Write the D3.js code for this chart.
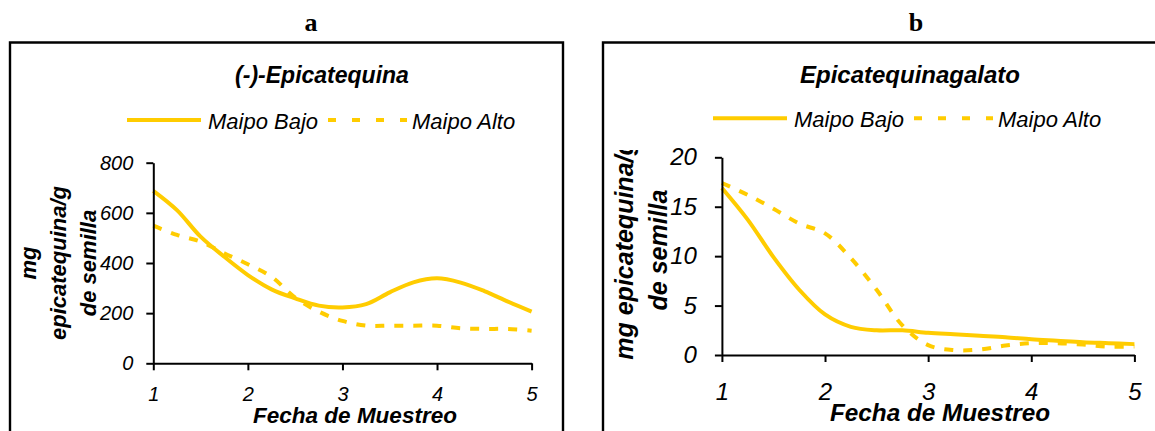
<!DOCTYPE html>
<html>
<head>
<meta charset="utf-8">
<script src="https://cdn.jsdelivr.net/npm/d3@7"></script>
<style>
  body { margin: 0; background: #fff; }
  svg { display: block; }
  .tick text { font-family: "Liberation Sans", Arial, sans-serif; font-style: italic; fill: #000; }
</style>
</head>
<body>
<div id="chart"></div>
<script>
// Sampling dates (quarter steps of the smoothed Excel series)
const fechas = [1, 1.25, 1.5, 1.75, 2, 2.25, 2.5, 2.75, 3, 3.25, 3.5, 3.75, 4, 4.25, 4.5, 4.75, 5];
const xTicks = [1, 2, 3, 4, 5];

// (-)-Epicatequina, mg/g de semilla
const epiBajo = [688, 611, 505, 425, 352, 295, 259, 230, 223, 236, 283, 323, 339, 322, 288, 246, 206];
const epiAlto = [549, 512, 485, 439, 395, 345, 262, 206, 169, 150, 150, 150, 150, 140, 137, 137, 130];
const epiTicks = [0, 200, 400, 600, 800];

// Epicatequinagalato, mg/g de semilla
const galBajo = [16.9, 13.7, 9.9, 6.6, 4.1, 2.85, 2.5, 2.5, 2.25, 2.1, 1.95, 1.8, 1.6, 1.45, 1.3, 1.2, 1.1];
const galAlto = [17.4, 16.2, 14.8, 13.3, 12.3, 9.8, 6.6, 3.0, 1.0, 0.5, 0.55, 0.95, 1.2, 1.2, 1.05, 0.85, 0.85];
const galTicks = [0, 5, 10, 15, 20];

const seriesNames = ["Maipo Bajo", "Maipo Alto"];

const gold = "#FFCC00";
const sans = '"Liberation Sans", Arial, sans-serif';

const svg = d3.select("#chart").append("svg")
    .attr("width", 1155)
    .attr("height", 431);

// Panel a
drawPanel({
    letter: "a", letterX: 311, boxX0: 10, boxX1: 563,
    title: "(-)-Epicatequina", titleX: 322, titleSize: 23,
    legendX: 127, legendY: 120,
    x0: 153.3, x1: 531.6, yTop: 162.7, yBottom: 363.3,
    yMax: 800, yTicks: epiTicks, bajo: epiBajo, alto: epiAlto,
    tickSize: 20, yPad: 13, xPad: 17,
    yTitle: ["mg", "epicatequina/g", "de semilla"], yTitleX: [36, 66, 96], yTitleY: 263, yTitleSize: 22,
    xTitleX: 355, xTitleY: 423, xTitleSize: 22.5
});

// Panel b
drawPanel({
    letter: "b", letterX: 916, boxX0: 603, boxX1: 1162,
    title: "Epicatequinagalato", titleX: 910, titleSize: 24,
    legendX: 713, legendY: 118.3,
    x0: 721.9, x1: 1134.4, yTop: 157.3, yBottom: 355,
    yMax: 20, yTicks: galTicks, bajo: galBajo, alto: galAlto,
    tickSize: 24, yPad: 18, xPad: 21,
    yTitle: ["mg epicatequina/g", "de semilla"], yTitleX: [633, 667], yTitleY: 250, yTitleSize: 25,
    yTitleClip: 150,
    xTitleX: 940, xTitleY: 421, xTitleSize: 24.3
});

function drawPanel(p) {
    const g = svg.append("g");

    // Panel letter
    g.append("text")
        .attr("x", p.letterX)
        .attr("y", 30.7)
        .attr("text-anchor", "middle")
        .style("font-family", '"Liberation Serif", "Times New Roman", serif')
        .style("font-weight", "bold")
        .style("font-size", "26px")
        .text(p.letter);

    // Frame (runs off the bottom / right edge of the picture)
    g.append("path")
        .attr("d", `M${p.boxX0},440V42.5H${p.boxX1}V440`)
        .attr("fill", "none")
        .attr("stroke", "#000")
        .attr("stroke-width", 2.4);

    // Chart title
    g.append("text")
        .attr("x", p.titleX)
        .attr("y", 82.5)
        .attr("text-anchor", "middle")
        .style("font-family", sans)
        .style("font-weight", "bold")
        .style("font-style", "italic")
        .style("font-size", p.titleSize + "px")
        .text(p.title);

    // Legend
    const leg = g.append("g").attr("transform", `translate(${p.legendX},${p.legendY})`);
    leg.append("line")
        .attr("x1", 0).attr("x2", 74)
        .attr("stroke", gold).attr("stroke-width", 4);
    leg.append("text")
        .attr("x", 81).attr("y", 8.5)
        .style("font-family", sans).style("font-style", "italic").style("font-size", "22px")
        .text(seriesNames[0]);
    leg.append("line")
        .attr("x1", 201).attr("x2", 280)
        .attr("stroke", gold).attr("stroke-width", 4)
        .attr("stroke-dasharray", "8,16");
    leg.append("text")
        .attr("x", 285).attr("y", 8.5)
        .style("font-family", sans).style("font-style", "italic").style("font-size", "22px")
        .text(seriesNames[1]);

    // Scales
    const x = d3.scaleLinear().domain([1, 5]).range([p.x0, p.x1]);
    const y = d3.scaleLinear().domain([0, p.yMax]).range([p.yBottom, p.yTop]);

    const line = d3.line()
        .x((d, i) => x(fechas[i]))
        .y(d => y(d))
        .curve(d3.curveCatmullRom);

    g.append("path")
        .datum(p.bajo)
        .attr("d", line)
        .attr("fill", "none")
        .attr("stroke", gold)
        .attr("stroke-width", 4);

    g.append("path")
        .datum(p.alto)
        .attr("d", line)
        .attr("fill", "none")
        .attr("stroke", gold)
        .attr("stroke-width", 4)
        .attr("stroke-dasharray", "9,10");

    // Axes
    const yAxis = g.append("g")
        .attr("transform", `translate(${p.x0},0)`)
        .call(d3.axisLeft(y).tickValues(p.yTicks).tickFormat(d3.format("d"))
            .tickSize(7).tickSizeOuter(0).tickPadding(p.yPad));
    const xAxis = g.append("g")
        .attr("transform", `translate(0,${p.yBottom})`)
        .call(d3.axisBottom(x).tickValues(xTicks).tickFormat(d3.format("d"))
            .tickSize(7).tickSizeOuter(0).tickPadding(p.xPad));

    [yAxis, xAxis].forEach(a => {
        a.selectAll("path, line").attr("stroke", "#000").attr("stroke-width", 2);
        a.selectAll("text").style("font-size", p.tickSize + "px");
    });

    // Y axis title (rotated, several lines)
    const yt = g.append("g");
    if (p.yTitleClip) {
        svg.append("clipPath").attr("id", "clip-" + p.letter)
            .append("rect").attr("x", 0).attr("y", p.yTitleClip).attr("width", 1155).attr("height", 431);
        yt.attr("clip-path", `url(#clip-${p.letter})`);
    }
    p.yTitle.forEach((t, i) => {
        yt.append("text")
            .attr("transform", `translate(${p.yTitleX[i]},${p.yTitleY}) rotate(-90)`)
            .attr("text-anchor", "middle")
            .style("font-family", sans)
            .style("font-weight", "bold")
            .style("font-style", "italic")
            .style("font-size", p.yTitleSize + "px")
            .text(t);
    });

    // X axis title
    g.append("text")
        .attr("x", p.xTitleX)
        .attr("y", p.xTitleY)
        .attr("text-anchor", "middle")
        .style("font-family", sans)
        .style("font-weight", "bold")
        .style("font-style", "italic")
        .style("font-size", p.xTitleSize + "px")
        .text("Fecha de Muestreo");
}
</script>
</body>
</html>
